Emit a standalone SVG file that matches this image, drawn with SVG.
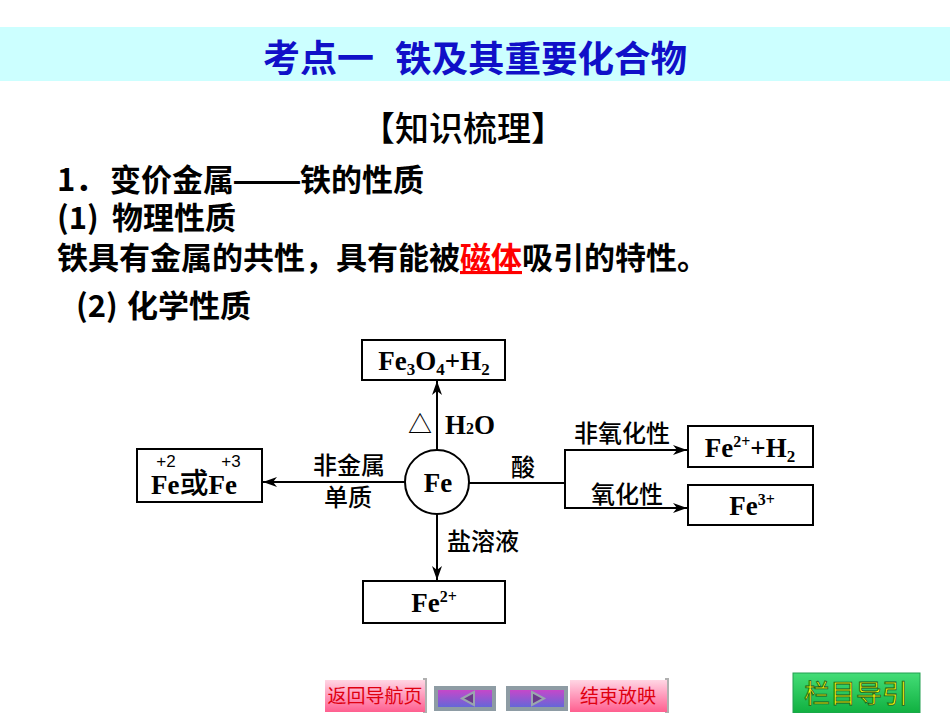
<svg xmlns="http://www.w3.org/2000/svg" width="950" height="713" viewBox="0 0 950 713">
<defs>
<style>
.cjk{font-family:"Noto Sans CJK SC","Noto Sans",sans-serif;}
.body{font-family:"Noto Sans CJK SC","Noto Sans",sans-serif;font-weight:bold;font-size:31px;fill:#000;}
.chem{font-family:"Liberation Serif","Noto Sans CJK SC",serif;font-weight:bold;font-size:27px;fill:#000;}
.lab{font-family:"Noto Sans CJK SC",sans-serif;font-weight:500;font-size:24px;fill:#000;}
.box{fill:#fff;stroke:#000;stroke-width:2;}
.con{fill:none;stroke:#000;stroke-width:2;}
.btnt{font-family:"Noto Sans CJK SC",sans-serif;font-size:19px;fill:#E00010;}
</style>
<marker id="ah" viewBox="0 0 14 10" refX="14" refY="5" markerWidth="14" markerHeight="10" orient="auto" markerUnits="userSpaceOnUse">
<path d="M0,0 L14,5 L0,10 L4,5 z" fill="#000"/>
</marker>
<linearGradient id="pink" x1="0" y1="0" x2="0" y2="1">
<stop offset="0" stop-color="#FFD6E4"/>
<stop offset="0.5" stop-color="#FF99BB"/>
<stop offset="1" stop-color="#FF5F8F"/>
</linearGradient>
<linearGradient id="nav" x1="0" y1="0" x2="0" y2="1">
<stop offset="0" stop-color="#D044C8"/>
<stop offset="1" stop-color="#5A6ADA"/>
</linearGradient>
<linearGradient id="green" x1="0" y1="0" x2="0" y2="1">
<stop offset="0" stop-color="#44DD77"/>
<stop offset="1" stop-color="#10B040"/>
</linearGradient>
</defs>
<rect width="950" height="713" fill="#fff"/>

<g id="title">
<rect x="0" y="27" width="950" height="54" fill="#CCFFFF"/>
<text x="263" y="72" class="cjk" font-size="37" font-weight="bold" fill="#1010C8">考点一</text>
<text x="395" y="72" class="cjk" font-size="36.5" font-weight="bold" fill="#1010C8">铁及其重要化合物</text>
</g>

<g id="heading">
<text x="463" y="141" class="cjk" font-size="34" font-weight="500" text-anchor="middle" fill="#000">【知识梳理】</text>
</g>

<g id="body-text">
<text x="57" y="191" class="body" font-size="32">1．</text>
<text x="110" y="191" class="body" font-size="32">变价金属</text>
<text x="232" y="191" class="body" font-size="32" textLength="70" lengthAdjust="spacingAndGlyphs">——</text>
<text x="300" y="191" class="body" font-size="32">铁的性质</text>
<text x="57" y="229" class="body">(1)</text>
<text x="112" y="229" class="body">物理性质</text>
<text x="57" y="269" class="body" font-size="31.5">铁具有金属的共性，具有能被<tspan fill="#FF0000" text-decoration="underline">磁体</tspan>吸引的特性。</text>
<text x="76" y="317" class="body">(2)</text>
<text x="127" y="317" class="body">化学性质</text>
</g>

<g id="connectors">
<line x1="437" y1="450" x2="437" y2="381" class="con" marker-end="url(#ah)"/>
<line x1="405" y1="482" x2="263" y2="482" class="con" marker-end="url(#ah)"/>
<line x1="469" y1="483" x2="565" y2="483" class="con"/>
<line x1="565" y1="449" x2="565" y2="509" class="con"/>
<line x1="564" y1="450" x2="687" y2="450" class="con" marker-end="url(#ah)"/>
<line x1="564" y1="508" x2="687" y2="508" class="con" marker-end="url(#ah)"/>
<line x1="437" y1="514" x2="437" y2="580" class="con" marker-end="url(#ah)"/>
<text x="420" y="433" class="lab" text-anchor="middle">△</text>
<text x="445" y="434" class="chem" font-size="21">H<tspan font-size="16">2</tspan>O</text>
<text x="349" y="474" class="lab" text-anchor="middle">非金属</text>
<text x="348" y="506" class="lab" text-anchor="middle">单质</text>
<text x="523" y="476" class="lab" text-anchor="middle">酸</text>
<text x="622" y="442" class="lab" text-anchor="middle">非氧化性</text>
<text x="627" y="503" class="lab" text-anchor="middle">氧化性</text>
<text x="483" y="550" class="lab" text-anchor="middle">盐溶液</text>
</g>

<g id="node-fe">
<circle cx="437" cy="482" r="32" class="box"/>
<text x="438" y="492" class="chem" font-size="28" text-anchor="middle">Fe</text>
</g>

<g id="node-fe3o4">
<rect x="362" y="340" width="143" height="40" class="box"/>
<text x="434" y="370" class="chem" text-anchor="middle">Fe<tspan font-size="17" dy="5">3</tspan><tspan dy="-5">O</tspan><tspan font-size="17" dy="5">4</tspan><tspan dy="-5">+H</tspan><tspan font-size="17" dy="5">2</tspan></text>
</g>

<g id="node-fe23">
<rect x="137" y="449" width="125" height="53" class="box"/>
<text x="151" y="494" class="chem" font-size="29">Fe<tspan font-family="Noto Sans CJK SC, sans-serif" font-weight="500" font-size="29">或</tspan>Fe</text>
<text x="166" y="467" font-family="Liberation Sans, sans-serif" font-size="17" text-anchor="middle">+2</text>
<text x="231" y="467" font-family="Liberation Sans, sans-serif" font-size="17" text-anchor="middle">+3</text>
</g>

<g id="node-fe2h2">
<rect x="688" y="426" width="125" height="41" class="box"/>
<text x="750" y="457" class="chem" text-anchor="middle">Fe<tspan font-size="16" dy="-10">2+</tspan><tspan dy="10">+H</tspan><tspan font-size="17" dy="5">2</tspan></text>
</g>

<g id="node-fe3">
<rect x="688" y="485" width="125" height="40" class="box"/>
<text x="752" y="515" class="chem" text-anchor="middle">Fe<tspan font-size="16" dy="-10">3+</tspan></text>
</g>

<g id="node-fe2">
<rect x="363" y="581" width="142" height="42" class="box"/>
<text x="434" y="612" class="chem" text-anchor="middle">Fe<tspan font-size="16" dy="-10">2+</tspan></text>
</g>

<g id="btn-back">
<rect x="423" y="678" width="4" height="35" fill="#B0B0B0"/>
<rect x="325" y="680" width="100" height="32" fill="url(#pink)"/>
<text x="375" y="703" class="btnt" text-anchor="middle">返回导航页</text>
</g>
<g id="btn-prev">
<rect x="436" y="688" width="58" height="21" fill="url(#nav)" stroke="#8E9CA4" stroke-width="4"/>
<path d="M462,698.5 L474,692 L474,705 Z" fill="#6A3A8A" stroke="#9AA6AE" stroke-width="2"/>
</g>
<g id="btn-next">
<rect x="508" y="688" width="58" height="21" fill="url(#nav)" stroke="#8E9CA4" stroke-width="4"/>
<path d="M544,698.5 L532,692 L532,705 Z" fill="#6A3A8A" stroke="#9AA6AE" stroke-width="2"/>
</g>
<g id="btn-end">
<rect x="665" y="678" width="4" height="35" fill="#B0B0B0"/>
<rect x="570" y="680" width="97" height="32" fill="url(#pink)"/>
<text x="618" y="703" class="btnt" text-anchor="middle">结束放映</text>
</g>
<g id="btn-nav">
<rect x="793" y="673" width="127" height="40" fill="url(#green)" stroke="#22A050" stroke-width="1"/>
<text x="856" y="703" class="cjk" font-size="26" text-anchor="middle" fill="#FFFF00" stroke="#1A5A20" stroke-width="0.8">栏目导引</text>
</g>
</svg>
